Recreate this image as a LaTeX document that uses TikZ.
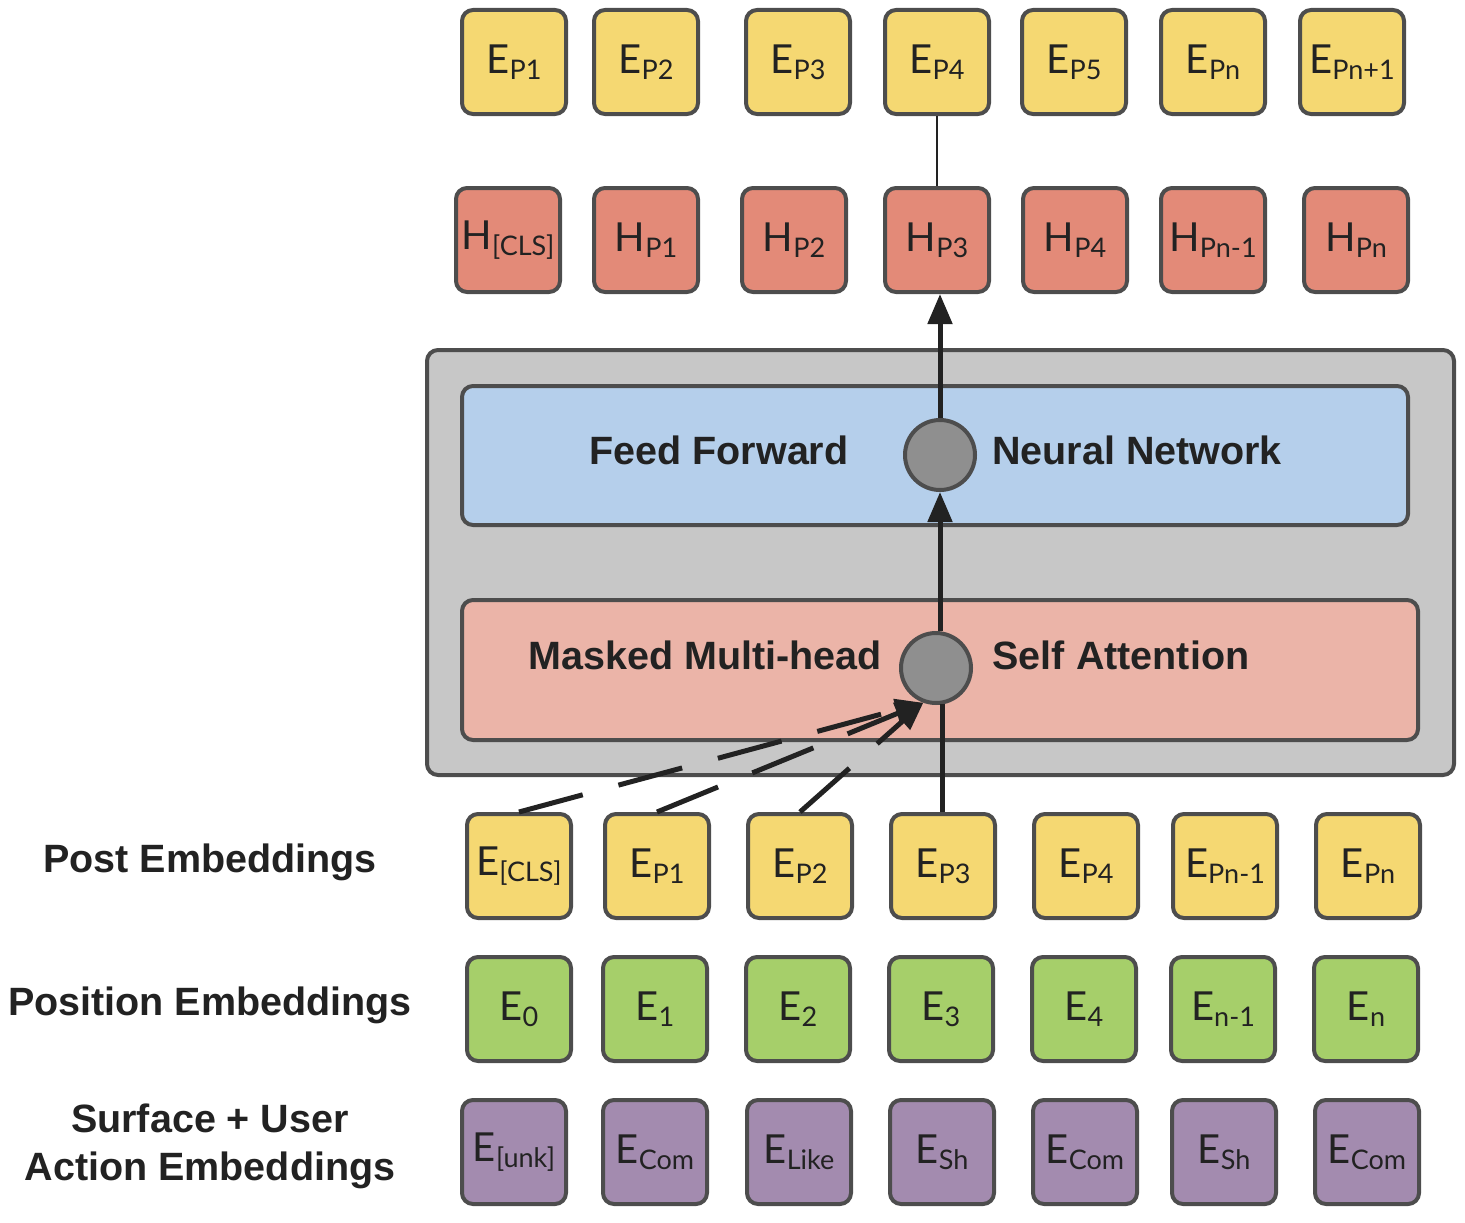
\documentclass[tikz,border=0pt]{standalone}
\usepackage{fontspec}
\setmainfont{Lato}
\newfontfamily\lblfont{Liberation Sans}
\usetikzlibrary{arrows.meta}
\definecolor{ylw}{HTML}{F5D872}
\definecolor{hcol}{HTML}{E38A78}
\definecolor{grn}{HTML}{A6CF6A}
\definecolor{prp}{HTML}{A38BAF}
\definecolor{blu}{HTML}{B5CFEB}
\definecolor{pnk}{HTML}{EBB4A8}
\definecolor{cont}{HTML}{C7C7C7}
\definecolor{circ}{HTML}{8F8F8F}
\definecolor{bord}{HTML}{4D4D4D}
\definecolor{ink}{HTML}{222222}
\newcommand\lsub[1]{\raisebox{-6pt}{\fontsize{27}{27}\selectfont #1}}
\begin{document}
\begin{tikzpicture}[x=1pt,y=-1pt,
  box/.style={draw=bord, line width=4pt, rounded corners=11pt, minimum width=104pt, minimum height=104pt, inner sep=0pt, text=ink, font=\fontsize{40}{40}\selectfont},
  ybox/.style={box, fill=ylw},
  hbox/.style={box, fill=hcol},
  gbox/.style={box, fill=grn},
  pbox/.style={box, fill=prp},
  layer/.style={draw=bord, line width=4pt, rounded corners=11pt, inner sep=0pt},
  dot/.style={circle, draw=bord, line width=4pt, fill=circ, minimum size=70pt, inner sep=0pt},
  bold/.style={text=ink, font=\lblfont\bfseries\fontsize{39.5}{48}\selectfont, inner sep=0pt},
  arr/.style={draw=ink, line width=5pt, -{Triangle[length=30pt,width=24pt]}},
  dasharr/.style={draw=ink, line width=5pt, dash pattern=on 66pt off 37pt, -{Triangle[length=28pt,width=22pt]}},
  thin/.style={draw=ink, line width=1.8pt}
]
\useasboundingbox (0,0) rectangle (1465,1223);

% encoder container
\node[layer, fill=cont, minimum width=1027pt, minimum height=425pt] (enc) at (940.5,562.5) {};
\node[layer, fill=blu, minimum width=946pt, minimum height=139pt] (ffn) at (935,455.5) {};
\node[layer, fill=pnk, minimum width=956pt, minimum height=140pt] (att) at (940,670) {};
\node[bold] (ffnl) at (719,450) {Feed Forward};
\node[bold] (ffnr) at (1137,450) {Neural Network};
\node[bold] (attl) at (705,655) {Masked Multi-head};
\node[bold] (attr) at (1121,655) {Self Attention};
\node[dot] (uc) at (940,455) {};
\node[dot] (lc) at (936,668) {};

% top output row
\node[ybox] (t1) at (514,62) {E\lsub{P1}};
\node[ybox] (t2) at (646,62) {E\lsub{P2}};
\node[ybox] (t3) at (798,62) {E\lsub{P3}};
\node[ybox] (t4) at (937,62) {E\lsub{P4}};
\node[ybox] (t5) at (1074,62) {E\lsub{P5}};
\node[ybox] (t6) at (1213,62) {E\lsub{Pn}};
\node[ybox] (t7) at (1352,62) {E\lsub{Pn+1}};

% hidden row
\node[hbox] (h1) at (508,240) {H\lsub{[CLS]}};
\node[hbox] (h2) at (646,240) {H\lsub{P1}};
\node[hbox] (h3) at (794,240) {H\lsub{P2}};
\node[hbox] (h4) at (937,240) {H\lsub{P3}};
\node[hbox] (h5) at (1075,240) {H\lsub{P4}};
\node[hbox] (h6) at (1213,240) {H\lsub{Pn-1}};
\node[hbox] (h7) at (1356,240) {H\lsub{Pn}};

% post embeddings
\node[ybox] (p1) at (519,866) {E\lsub{[CLS]}};
\node[ybox] (p2) at (657,866) {E\lsub{P1}};
\node[ybox] (p3) at (800,866) {E\lsub{P2}};
\node[ybox] (p4) at (943,866) {E\lsub{P3}};
\node[ybox] (p5) at (1086,866) {E\lsub{P4}};
\node[ybox] (p6) at (1225,866) {E\lsub{Pn-1}};
\node[ybox] (p7) at (1368,866) {E\lsub{Pn}};

% position embeddings
\node[gbox] (q1) at (519,1009) {E\lsub{0}};
\node[gbox] (q2) at (655,1009) {E\lsub{1}};
\node[gbox] (q3) at (798,1009) {E\lsub{2}};
\node[gbox] (q4) at (941,1009) {E\lsub{3}};
\node[gbox] (q5) at (1084,1009) {E\lsub{4}};
\node[gbox] (q6) at (1223,1009) {E\lsub{n-1}};
\node[gbox] (q7) at (1366,1009) {E\lsub{n}};

% surface + user action embeddings
\node[pbox] (s1) at (514,1152) {E\lsub{[unk]}};
\node[pbox] (s2) at (655,1152) {E\lsub{Com}};
\node[pbox] (s3) at (799,1152) {E\lsub{Like}};
\node[pbox] (s4) at (942,1152) {E\lsub{Sh}};
\node[pbox] (s5) at (1085,1152) {E\lsub{Com}};
\node[pbox] (s6) at (1224,1152) {E\lsub{Sh}};
\node[pbox] (s7) at (1367,1152) {E\lsub{Com}};

% row labels
\node[bold] (lpost) at (210,862) {Post Embeddings};
\node[bold] (lpos) at (210,1005) {Position Embeddings};
\node[bold, align=center] (lsurf) at (210,1146) {Surface + User\\Action Embeddings};

% connectors
\draw[thin] (t4.south) -- (h4.north);
\draw[arr] (uc.north) -- (uc.north |- h4.south);
\draw[arr] (uc.south |- lc.north) -- (uc.south);
\draw[draw=ink, line width=5pt] (p4.north -| 942,0) -- (942,704);
\draw[dasharr] (p1.north) -- (lc.250);
\draw[dasharr] (p2.north) -- (lc.250);
\draw[dasharr] (p3.north) -- (lc.250);
\end{tikzpicture}
\end{document}
